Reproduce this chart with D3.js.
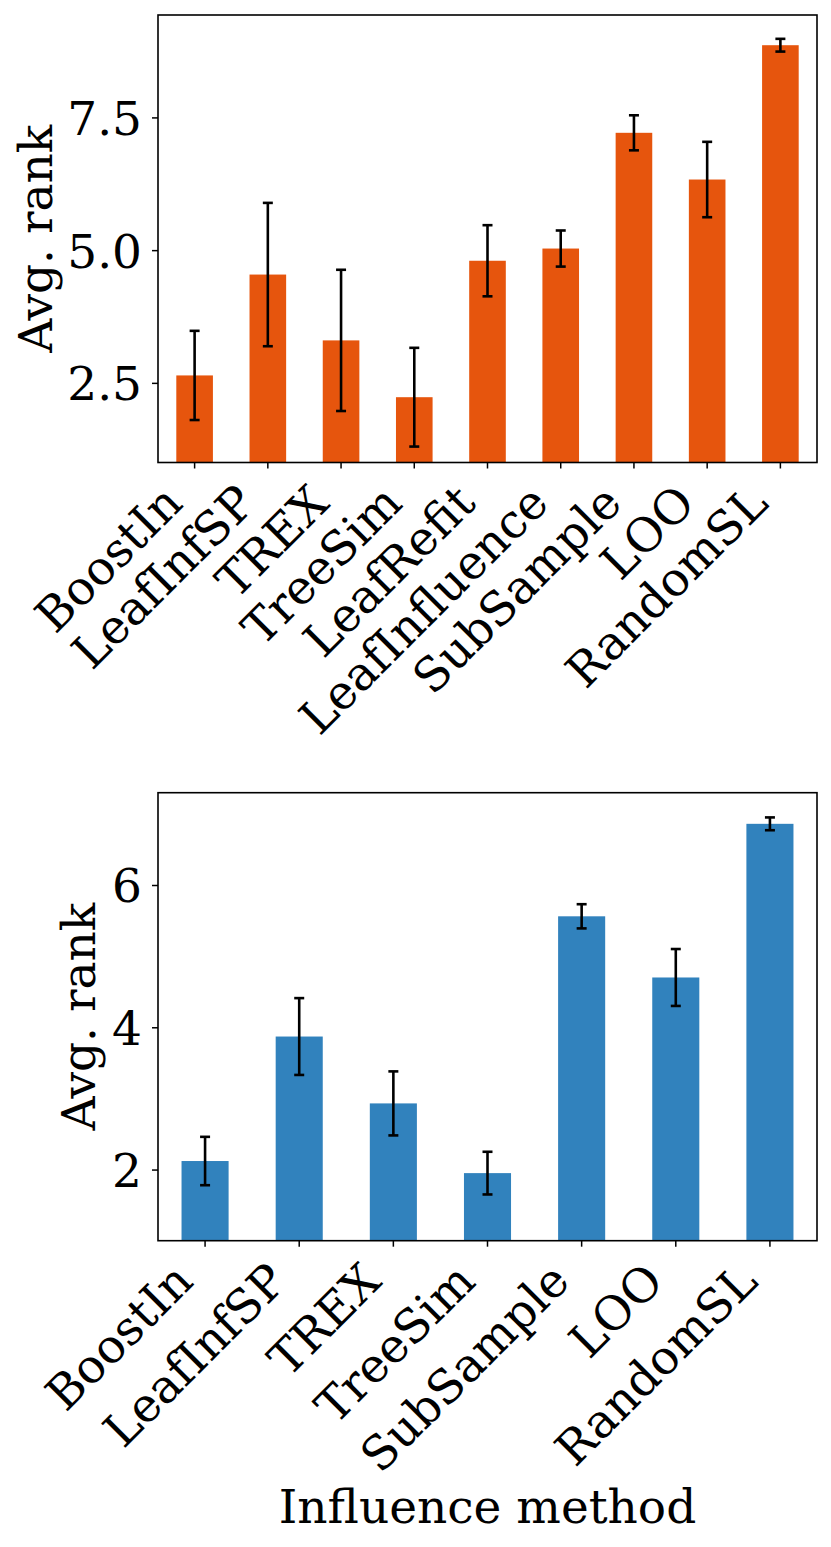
<!DOCTYPE html>
<html>
<head>
<meta charset="utf-8">
<script src="https://cdn.jsdelivr.net/npm/d3@7"></script>
<style>
  body { margin: 0; background: #fff; }
  text { font-family: "DejaVu Serif", serif; fill: #000; }
</style>
</head>
<body>
<div id="chart-area"></div>
<script>
// top panel: all methods
const topMethods = ["BoostIn", "LeafInfSP", "TREX", "TreeSim", "LeafRefit", "LeafInfluence", "SubSample", "LOO", "RandomSL"];
const topMeans = [2.64, 4.54, 3.30, 2.23, 4.80, 5.03, 7.21, 6.33, 8.86];
const topErr = [0.84, 1.35, 1.33, 0.93, 0.67, 0.34, 0.33, 0.71, 0.12];
const topTicks = [2.5, 5.0, 7.5];

// bottom panel: without LeafRefit / LeafInfluence
const bottomMethods = ["BoostIn", "LeafInfSP", "TREX", "TreeSim", "SubSample", "LOO", "RandomSL"];
const bottomMeans = [2.12, 3.87, 2.93, 1.95, 5.56, 4.70, 6.86];
const bottomErr = [0.34, 0.54, 0.45, 0.30, 0.17, 0.40, 0.09];
const bottomTicks = [2, 4, 6];

const W = 831, H = 1547;
const fontSize = 47;

var svg = d3.select("#chart-area")
    .append("svg")
    .attr("width", W)
    .attr("height", H);

function panel(opts) {
    const data = opts.methods.map(function(m, i) {
        return { name: m, mean: opts.means[i], err: opts.errs[i] };
    });

    const x = d3.scaleBand()
        .domain(opts.methods)
        .range([opts.left, opts.right])
        .paddingInner(0.5)
        .paddingOuter(0.25);

    // matplotlib style autoscale: 5% margin on top, bottom pinned at 1
    const ymax = d3.max(data, function(d) { return d.mean + d.err; }) * 1.05;
    const y = d3.scaleLinear()
        .domain([1, ymax])
        .range([opts.bottom, opts.top]);

    const g = svg.append("g");

    g.selectAll("rect.bar")
        .data(data)
        .enter()
        .append("rect")
        .attr("class", "bar")
        .attr("x", function(d) { return x(d.name); })
        .attr("width", x.bandwidth())
        .attr("y", function(d) { return y(d.mean); })
        .attr("height", function(d) { return y.range()[0] - y(d.mean); })
        .attr("fill", opts.color);

    // error bars
    const eb = g.selectAll("g.err")
        .data(data)
        .enter()
        .append("g")
        .attr("class", "err")
        .attr("stroke", "#000")
        .attr("stroke-width", 2.6);
    eb.append("line")
        .attr("x1", function(d) { return x(d.name) + x.bandwidth() / 2; })
        .attr("x2", function(d) { return x(d.name) + x.bandwidth() / 2; })
        .attr("y1", function(d) { return y(d.mean - d.err); })
        .attr("y2", function(d) { return y(d.mean + d.err); });
    [-1, 1].forEach(function(s) {
        eb.append("line")
            .attr("x1", function(d) { return x(d.name) + x.bandwidth() / 2 - 5; })
            .attr("x2", function(d) { return x(d.name) + x.bandwidth() / 2 + 5; })
            .attr("y1", function(d) { return y(d.mean + s * d.err); })
            .attr("y2", function(d) { return y(d.mean + s * d.err); });
    });

    // y axis
    const yAxisCall = d3.axisLeft(y)
        .tickValues(opts.ticks)
        .tickSize(6)
        .tickPadding(10)
        .tickFormat(opts.fmt);
    const ya = g.append("g")
        .attr("transform", "translate(" + opts.left + ",0)")
        .call(yAxisCall);
    ya.select(".domain").remove();
    ya.selectAll("line").attr("stroke", "#000").attr("stroke-width", 1.5);
    ya.selectAll("text")
        .attr("font-size", fontSize)
        .attr("font-family", "DejaVu Serif")
        .attr("dy", "0.36em");

    // x axis, labels rotated 45 deg and right aligned
    const xAxisCall = d3.axisBottom(x).tickSize(6).tickFormat("");
    const xa = g.append("g")
        .attr("transform", "translate(0," + opts.bottom + ")")
        .call(xAxisCall);
    xa.select(".domain").remove();
    xa.selectAll("line").attr("stroke", "#000").attr("stroke-width", 1.5);

    g.selectAll("text.xlab")
        .data(opts.methods)
        .enter()
        .append("text")
        .attr("class", "xlab")
        .attr("font-size", fontSize)
        .attr("text-anchor", "end")
        .attr("transform", function(d) {
            const tx = x(d) + x.bandwidth() / 2 - 10;
            const ty = opts.bottom + 43;
            return "translate(" + tx + "," + ty + ") rotate(-45)";
        })
        .text(function(d) { return d; });

    // frame
    g.append("rect")
        .attr("x", opts.left)
        .attr("y", opts.top)
        .attr("width", opts.right - opts.left)
        .attr("height", opts.bottom - opts.top)
        .attr("fill", "none")
        .attr("stroke", "#000")
        .attr("stroke-width", 1.6);

    // Y label
    g.append("text")
        .attr("font-size", fontSize)
        .attr("text-anchor", "middle")
        .attr("transform", "translate(" + opts.ylabX + "," + (opts.top + opts.bottom) / 2 + ") rotate(-90)")
        .text("Avg. rank");

    return g;
}

panel({
    methods: topMethods, means: topMeans, errs: topErr, ticks: topTicks,
    fmt: d3.format(".1f"), color: "#e6550d",
    left: 158, right: 817, top: 15, bottom: 462.5, ylabX: 52
});

const bottomG = panel({
    methods: bottomMethods, means: bottomMeans, errs: bottomErr, ticks: bottomTicks,
    fmt: d3.format("d"), color: "#3182bd",
    left: 158, right: 817, top: 792.7, bottom: 1240.7, ylabX: 95
});

// X label
bottomG.append("text")
    .attr("x", (158 + 817) / 2)
    .attr("y", 1522.5)
    .attr("font-size", fontSize)
    .attr("text-anchor", "middle")
    .text("Influence method");
</script>
</body>
</html>
